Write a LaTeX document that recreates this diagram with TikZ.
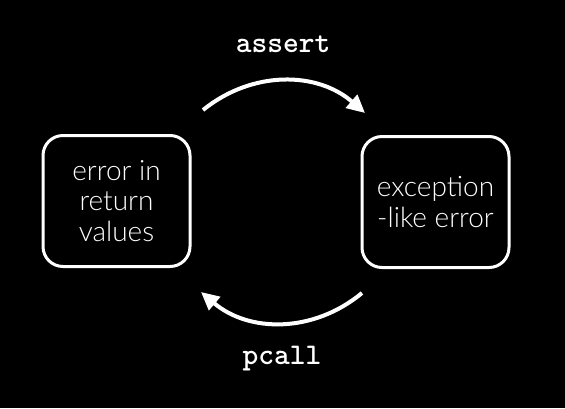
\documentclass[tikz,border=0pt]{standalone}
\usepackage{fontspec}
\setmainfont{Liberation Sans}
\newfontfamily\boxfont{Lato Light}
\usetikzlibrary{arrows.meta}

\tikzset{
	errbox/.style={draw=white, line width=3pt, rounded corners=20pt, minimum width=147pt,
		minimum height=131pt, align=center, text=white, font=\boxfont\fontsize{28}{30.5}\selectfont},
	flow/.style={draw=white, line width=4pt, -{Triangle[length=18pt,width=17pt]}},
	callname/.style={text=white, font=\ttfamily\bfseries\fontsize{30}{32}\selectfont}
}

\begin{document}
\begin{tikzpicture}[x=1pt, y=-1pt]
		\fill[black] (0, 0) rectangle (565, 408);
		\useasboundingbox (0, 0) rectangle (565, 408);

		\node[errbox] (ret) at (116.5, 201) {error in\\return\\values};
		\node[errbox] (exc) at (435.5, 202) {exception\\-like error};

		\coordinate (A) at (203, 110);
		\coordinate (B) at (365, 113);
		\coordinate (C) at (362, 293);
		\coordinate (D) at (201, 292);

		\foreach \s/\t in {A/B, C/D} {
			\draw[flow] (\s) to[bend left=40] (\t);
		}

		\node[callname] (assert) at (283, 44) {assert};
		\node[callname] (pcall) at (282, 359) {pcall};
	\end{tikzpicture}
\end{document}
